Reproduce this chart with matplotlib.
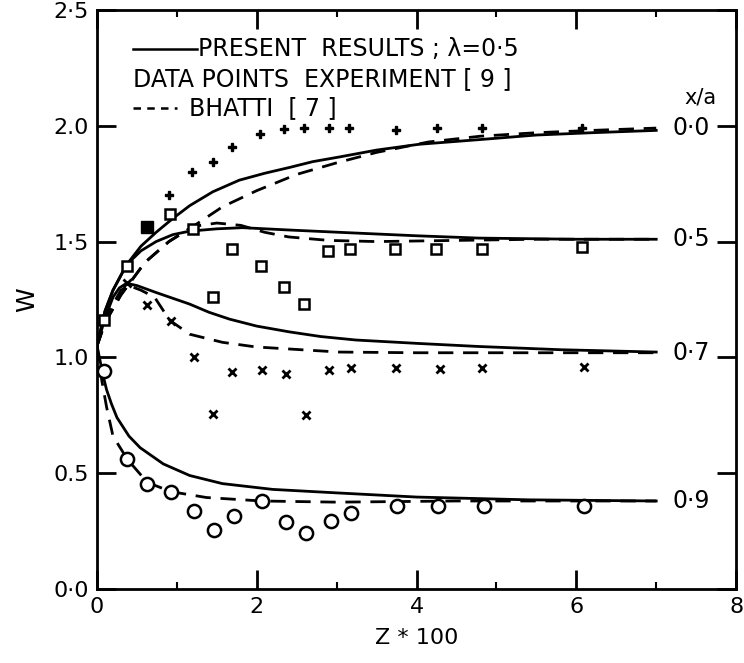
import matplotlib
matplotlib.use("Agg")
import matplotlib.pyplot as plt
from matplotlib.ticker import MultipleLocator

# experimental points, x/a = 0.0 (plus)
plus_z = [0.90, 1.19, 1.45, 1.69, 2.04, 2.34, 2.59, 2.90, 3.16, 3.74, 4.26, 4.82, 6.07]
plus_w = [1.70, 1.80, 1.845, 1.91, 1.965, 1.985, 1.99, 1.99, 1.99, 1.98, 1.99, 1.99, 1.99]

# x/a = 0.5 (open squares)
sq_z = [0.09, 0.37, 0.91, 1.20, 1.45, 1.69, 2.05, 2.34, 2.585, 2.89, 3.17, 3.73, 4.24, 4.82, 6.07]
sq_w = [1.16, 1.395, 1.62, 1.555, 1.26, 1.47, 1.395, 1.305, 1.23, 1.46, 1.47, 1.47, 1.47, 1.47, 1.475]
filled_z = [0.63]
filled_w = [1.565]

# x/a = 0.7 (crosses)
cross_z = [0.37, 0.62, 0.92, 1.21, 1.45, 1.69, 2.07, 2.36, 2.61, 2.91, 3.18, 3.74, 4.29, 4.82, 6.10]
cross_w = [1.32, 1.225, 1.155, 1.00, 0.755, 0.935, 0.945, 0.93, 0.75, 0.945, 0.955, 0.955, 0.95, 0.955, 0.96]

# x/a = 0.9 (circles)
circ_z = [0.087, 0.38, 0.63, 0.93, 1.22, 1.46, 1.72, 2.06, 2.37, 2.61, 2.93, 3.18, 3.76, 4.27, 4.84, 6.09]
circ_w = [0.94, 0.56, 0.455, 0.42, 0.337, 0.254, 0.315, 0.38, 0.29, 0.24, 0.295, 0.326, 0.358, 0.36, 0.358, 0.358]

# present results (solid)
s00_z = [0, 0.1, 0.2, 0.37, 0.55, 0.74, 0.95, 1.16, 1.45, 1.78, 2.1, 2.41, 2.7, 3.03, 3.5, 4.03, 4.78, 5.5, 6.2, 7.0]
s00_w = [1.05, 1.2, 1.29, 1.40, 1.48, 1.54, 1.60, 1.655, 1.715, 1.765, 1.795, 1.82, 1.845, 1.865, 1.895, 1.92, 1.94, 1.96, 1.97, 1.98]
s05_z = [0, 0.1, 0.2, 0.37, 0.55, 0.74, 0.95, 1.16, 1.5, 1.82, 2.4, 3.03, 4.0, 4.78, 6.0, 7.0]
s05_w = [1.05, 1.2, 1.29, 1.40, 1.46, 1.50, 1.53, 1.545, 1.555, 1.56, 1.55, 1.54, 1.525, 1.515, 1.51, 1.51]
s07_z = [0, 0.1, 0.2, 0.28, 0.37, 0.5, 0.74, 0.95, 1.16, 1.4, 1.66, 2.0, 2.41, 2.8, 3.24, 4.03, 4.78, 5.81, 7.0]
s07_w = [1.05, 1.17, 1.26, 1.30, 1.32, 1.31, 1.28, 1.255, 1.23, 1.195, 1.165, 1.135, 1.11, 1.09, 1.075, 1.06, 1.047, 1.033, 1.023]
s09_z = [0, 0.03, 0.07, 0.12, 0.18, 0.25, 0.4, 0.54, 0.83, 1.16, 1.57, 2.2, 3.0, 4.0, 5.4, 7.0]
s09_w = [1.05, 1.0, 0.93, 0.86, 0.80, 0.74, 0.66, 0.61, 0.54, 0.49, 0.455, 0.43, 0.415, 0.397, 0.385, 0.38]

# Bhatti (dashed)
d00_z = [0, 0.1, 0.3, 0.6, 0.9, 1.2, 1.57, 2.0, 2.5, 3.0, 3.5, 4.15, 4.8, 5.5, 6.2, 7.0]
d00_w = [1.05, 1.15, 1.27, 1.41, 1.50, 1.565, 1.65, 1.72, 1.79, 1.84, 1.885, 1.93, 1.955, 1.97, 1.98, 1.99]
d05_z = [0, 0.1, 0.3, 0.6, 0.9, 1.2, 1.5, 1.8, 2.1, 2.4, 2.9, 3.5, 4.5, 5.5, 7.0]
d05_w = [1.05, 1.15, 1.27, 1.41, 1.50, 1.565, 1.58, 1.57, 1.54, 1.52, 1.505, 1.50, 1.505, 1.51, 1.51]
d07_z = [0, 0.15, 0.3, 0.4, 0.55, 0.72, 0.91, 1.16, 1.57, 1.99, 3.03, 4.0, 7.0]
d07_w = [1.05, 1.2, 1.29, 1.31, 1.29, 1.26, 1.16, 1.10, 1.065, 1.045, 1.023, 1.02, 1.02]
d09_z = [0, 0.06, 0.12, 0.2, 0.38, 0.63, 0.93, 1.37, 2.06, 3.0, 4.5, 7.0]
d09_w = [1.05, 0.90, 0.785, 0.66, 0.56, 0.46, 0.42, 0.395, 0.38, 0.375, 0.38, 0.38]

curve_labels = ["0·0", "0·5", "0·7", "0·9"]
label_w = [1.99, 1.51, 1.02, 0.38]

fig = plt.figure(figsize=(7.44, 6.63), dpi=100)
ax = fig.add_axes([0.1304, 0.1116, 0.859, 0.8734])

for z, w in [(s00_z, s00_w), (s05_z, s05_w), (s07_z, s07_w), (s09_z, s09_w)]:
    ax.plot(z, w, color="black", lw=2)
for z, w in [(d00_z, d00_w), (d05_z, d05_w), (d07_z, d07_w), (d09_z, d09_w)]:
    ax.plot(z, w, color="black", lw=2, dashes=(5.5, 3.5))

ax.plot(plus_z, plus_w, linestyle="none", marker="P", ms=6, color="black")
ax.plot(sq_z, sq_w, linestyle="none", marker="s", ms=7, mfc="white", mec="black", mew=1.8)
ax.plot(filled_z, filled_w, linestyle="none", marker="s", ms=8, color="black")
ax.plot(cross_z, cross_w, linestyle="none", marker="x", ms=6, mew=2, color="black")
ax.plot(circ_z, circ_w, linestyle="none", marker="o", ms=9.5, mfc="white", mec="black", mew=1.8)

for lab, w in zip(curve_labels, label_w):
    ax.text(7.2, w, lab, fontsize=17, va="center", ha="left")
ax.text(7.35, 2.12, "x/a", fontsize=15, va="center", ha="left")

ax.plot([0.45, 1.25], [2.33, 2.33], color="black", lw=1.8)
ax.text(1.27, 2.33, "PRESENT  RESULTS ; λ=0·5", fontsize=17, va="center", ha="left")
ax.text(0.45, 2.20, "DATA POINTS  EXPERIMENT [ 9 ]", fontsize=17, va="center", ha="left")
ax.plot([0.45, 1.0], [2.075, 2.075], color="black", lw=1.8, dashes=(3, 2.5))
ax.text(1.15, 2.075, "BHATTI  [ 7 ]", fontsize=17, va="center", ha="left")

ax.set_xlim(0, 8)
ax.set_ylim(0, 2.5)
ax.set_xticks([0, 2, 4, 6, 8])
ax.xaxis.set_minor_locator(MultipleLocator(1))
ax.set_yticks([0, 0.5, 1.0, 1.5, 2.0, 2.5])
ax.set_yticklabels(["0·0", "0.5", "1.0", "1·5", "2.0", "2·5"])
ax.tick_params(which="major", direction="in", length=14, width=2, labelsize=16,
               top=True, right=True, pad=6)
ax.tick_params(which="minor", direction="in", length=5, width=1.5, top=True)
ax.yaxis.set_tick_params(which="minor", left=False, right=False)
for sp in ax.spines.values():
    sp.set_linewidth(2)

ax.set_xlabel("Z * 100", fontsize=16, labelpad=8)
ax.set_ylabel("W", fontsize=18, labelpad=10)

fig.savefig("out.png", dpi=100)
